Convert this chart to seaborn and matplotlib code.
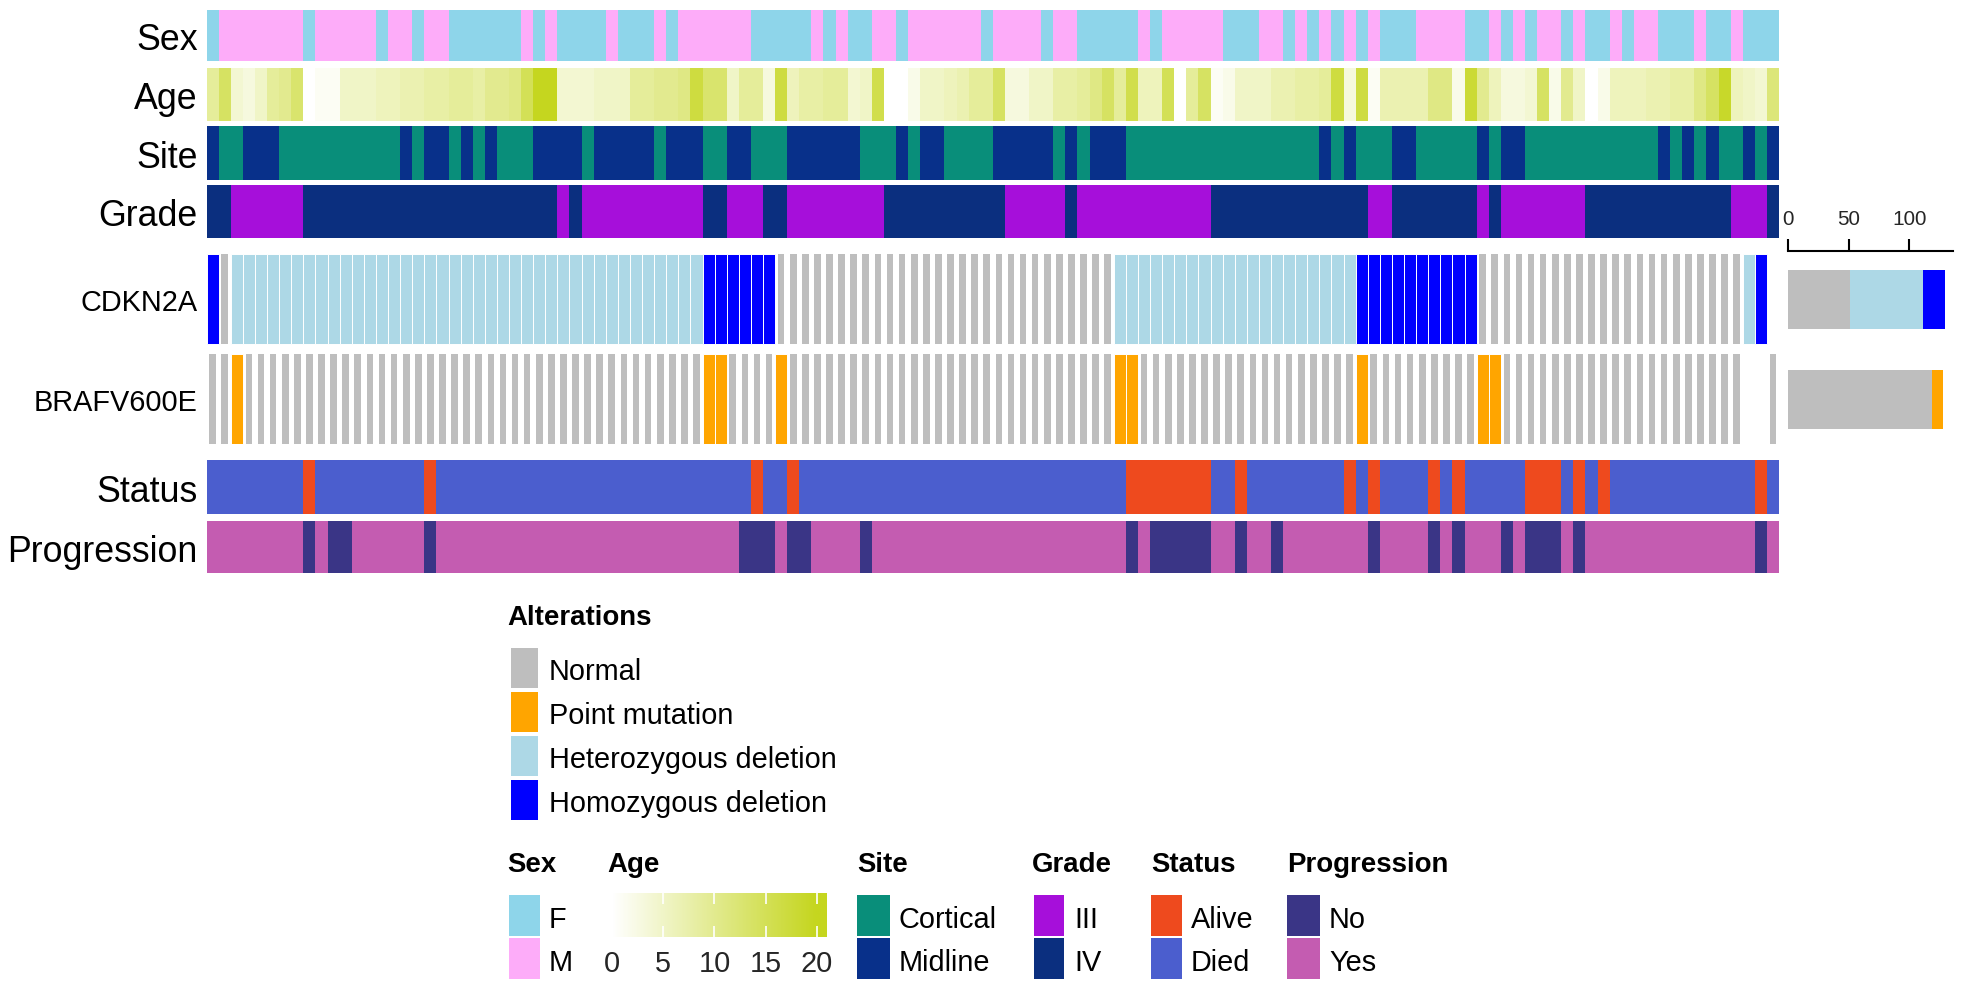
import numpy as np
import pandas as pd
import matplotlib
matplotlib.use("Agg")
import matplotlib.pyplot as plt
import seaborn as sns
from matplotlib.colors import ListedColormap, LinearSegmentedColormap, Normalize
from matplotlib.patches import Rectangle
from matplotlib import font_manager

# ---------------- data (one character / value per sample, 130 samples) ----------------
sex = ("FMMMMMMMFM" "MMMMFMMFMM" "FFFFFFMFMF" "FFFMFFFMFM" "MMMMMFFFFF"
       "MFMFFMMFMM" "MMMMFMMMMF" "MMFFFFFMFM" "MMMMFFFMMF" "MFMFMFMFFF"
       "MMMMFFMFMF" "MMFMFFMFMM" "FFFMFFMFFF")
age = [9, 14, 4, 3, 5, 9, 10, 13, 0, 1,
       1, 5, 5, 5, 6, 6, 7, 7, 8, 8,
       9, 9, 8, 10, 10, 11, 15, 20, 20, 4,
       4, 4, 5, 5, 5, 9, 9, 10, 10, 11,
       17, 13, 13, 5, 9, 9, 3, 17, 6, 8,
       8, 9, 9, 4, 5, 16, 0, 0, 2, 5,
       5, 6, 7, 9, 9, 14, 3, 3, 5, 5,
       8, 8, 9, 11, 14, 9, 16, 6, 6, 15,
       0, 9, 14, 1, 2, 5, 5, 5, 7, 7,
       8, 8, 9, 17, 3, 17, 1, 7, 7, 7,
       7, 11, 11, 2, 18, 10, 6, 3, 3, 4,
       14, 2, 10, 5, 0, 2, 6, 6, 6, 7,
       7, 8, 8, 11, 14, 19, 6, 5, 4, 12]
site = ("MCCMMMCCCC" "CCCCCCMCMM" "CMCMCCCMMM" "MCMMMMMCMM" "MCCMMCCCMM"
        "MMMMCCCMCM" "MCCCCMMMMM" "CMCMMMCCCC" "CCCCCCCCCC" "CCMCMCCCMM"
        "CCCCCMCMMC" "CCCCCCCCCC" "MCMCMCCMCM")
grade = ("4433333344" "4444444444" "4444444443" "4333333333" "3443334433"
         "3333334444" "4444443333" "3433333333" "3334444444" "4444443344"
         "4444434333" "3333444444" "4444443334")
cdkn2a = ("DNHHHHHHHH" "HHHHHHHHHH" "HHHHHHHHHH" "HHHHHHHHHH" "HDDDDDDNNN"
          "NNNNNNNNNN" "NNNNNNNNNN" "NNNNNHHHHH" "HHHHHHHHHH" "HHHHHDDDDD"
          "DDDDDNNNNN" "NNNNNNNNNN" "NNNNNNNHD-")
braf = ("NNPNNNNNNN" "NNNNNNNNNN" "NNNNNNNNNN" "NNNNNNNNNN" "NPPNNNNPNN"
        "NNNNNNNNNN" "NNNNNNNNNN" "NNNNNPPNNN" "NNNNNNNNNN" "NNNNNPNNNN"
        "NNNNNPPNNN" "NNNNNNNNNN" "NNNNNNN--N")
status = ("DDDDDDDDAD" "DDDDDDDDAD" "DDDDDDDDDD" "DDDDDDDDDD" "DDDDDADDAD"
          "DDDDDDDDDD" "DDDDDDDDDD" "DDDDDDAAAA" "AAADDADDDD" "DDDDADADDD"
          "DADADDDDDA" "AADADADDDD" "DDDDDDDDAD")
progression = ("YYYYYYYYNY" "NNYYYYYYNY" "YYYYYYYYYY" "YYYYYYYYYY" "YYYYNNNYNN"
               "YYYYNYYYYY" "YYYYYYYYYY" "YYYYYYNYNN" "NNNYYNYYNY" "YYYYYYNYYY"
               "YNYNYYYNYN" "NNYNYYYYYY" "YYYYYYYYNY")

gene_names = ["CDKN2A", "BRAFV600E"]
alt_codes = ["N", "P", "H", "D"]
alt_labels = ["Normal", "Point mutation", "Heterozygous deletion", "Homozygous deletion"]
alt_colors = ["#BEBEBE", "#FFA500", "#ADD8E6", "#0000FF"]

sex_levels, sex_labels, sex_colors = ["F", "M"], ["F", "M"], ["#8ED5EA", "#FDACF9"]
site_levels, site_labels, site_colors = ["C", "M"], ["Cortical", "Midline"], ["#098E7A", "#08308A"]
grade_levels, grade_labels, grade_colors = ["3", "4"], ["III", "IV"], ["#A60FDA", "#0B2F7F"]
status_levels, status_labels, status_colors = ["A", "D"], ["Alive", "Died"], ["#EE4A1E", "#4B5ECE"]
prog_levels, prog_labels, prog_colors = ["N", "Y"], ["No", "Yes"], ["#3A3586", "#C45CB1"]
age_cmap = LinearSegmentedColormap.from_list("age", ["#FFFFFF", "#C5D61F"])
age_ticks = [0, 5, 10, 15, 20]

N = len(sex)

# ---------------- style / fonts ----------------
sns.set_theme(style="white")
avail = {f.name for f in font_manager.fontManager.ttflist}
if "Liberation Sans Narrow" in avail:
    FN, SC = "Liberation Sans Narrow", 1.0
else:
    FN, SC = "Liberation Sans", 0.83
plt.rcParams["font.family"] = [FN, "DejaVu Sans"]

W, H = 1962, 990
fig = plt.figure(figsize=(W / 100, H / 100), dpi=100)


def add_px(x0, y0, x1, y1, **kw):
    return fig.add_axes([x0 / W, 1 - y1 / H, (x1 - x0) / W, (y1 - y0) / H], **kw)


ov = fig.add_axes([0, 0, 1, 1], zorder=-1)
ov.set_xlim(0, W)
ov.set_ylim(H, 0)
ov.axis("off")


def txt(x, yc, s, size, bold=False, ha="left"):
    size = size * SC
    base = yc + 0.358 * size * 100 / 72
    ov.text(x, base, s, fontsize=size, fontweight="bold" if bold else "normal",
            ha=ha, va="baseline", color="black", family=[FN, "DejaVu Sans"])


HX0, HX1 = 206.6, 1779.0
LBL_X = 198


def cat_row(codes, levels, colors, y0, y1, name):
    ax = add_px(HX0, y0, HX1, y1)
    vals = pd.DataFrame([[levels.index(c) for c in codes]])
    sns.heatmap(vals, ax=ax, cmap=ListedColormap(colors), vmin=-0.5,
                vmax=len(levels) - 0.5, cbar=False, xticklabels=False,
                yticklabels=False, linewidths=0)
    ax.set_xlabel("")
    ax.set_ylabel("")
    txt(LBL_X, (y0 + y1) / 2 + 2, name, 31, ha="right")


cat_row(sex, sex_levels, sex_colors, 10, 61, "Sex")
# Age (continuous)
ax_age = add_px(HX0, 68, HX1, 121)
sns.heatmap(pd.DataFrame([age]), ax=ax_age, cmap=age_cmap, vmin=0, vmax=20,
            cbar=False, xticklabels=False, yticklabels=False, linewidths=0)
ax_age.set_xlabel("")
ax_age.set_ylabel("")
txt(LBL_X, 94.5 + 2, "Age", 31, ha="right")
cat_row(site, site_levels, site_colors, 126, 180, "Site")
cat_row(grade, grade_levels, grade_colors, 185, 238, "Grade")
cat_row(status, status_levels, status_colors, 460, 514, "Status")
cat_row(progression, prog_levels, prog_colors, 521, 573, "Progression")

# ---------------- oncoprint rows ----------------
ax_on = add_px(HX0, 254, HX1, 444)
ax_on.set_xlim(-0.5, N - 0.5)
ax_on.set_ylim(1.45, -0.45)
ax_on.axis("off")
gene_data = [cdkn2a, braf]
for gi, codes in enumerate(gene_data):
    for code, col in zip(alt_codes, alt_colors):
        xs = [j for j, c in enumerate(codes) if c == code]
        if not xs:
            continue
        if code == "N":
            ax_on.bar(xs, 0.9, bottom=gi - 0.45, width=0.55, color=col, linewidth=0)
        else:
            ax_on.bar(xs, 0.9, bottom=gi - 0.45, width=1.0, color=col,
                      edgecolor="white", linewidth=0.7)
txt(LBL_X, 299 + 2, gene_names[0], 25, ha="right")
txt(LBL_X, 399 + 2, gene_names[1], 25, ha="right")

# ---------------- right bar plot ----------------
ax_b = add_px(1788, 251, 1953, 444)
ax_b.set_xlim(0, 136)
ax_b.set_ylim(1.45, -0.48)
left = np.zeros(len(gene_data))
for code, col in zip(alt_codes, alt_colors):
    cnt = np.array([codes.count(code) for codes in gene_data], dtype=float)
    ax_b.barh(np.arange(len(gene_data)), cnt, left=left, height=0.59, color=col, linewidth=0)
    left += cnt
for s in ["bottom", "left", "right"]:
    ax_b.spines[s].set_visible(False)
ax_b.spines["top"].set_visible(True)
ax_b.spines["top"].set_color("black")
ax_b.spines["top"].set_linewidth(1.5)
ax_b.xaxis.tick_top()
ax_b.set_xticks([0, 50, 100])
ax_b.set_yticks([])
ax_b.tick_params(axis="x", top=True, bottom=False, direction="out", length=9,
                 width=1.5, color="black", labelsize=18 * SC, pad=7)
ax_b.set_facecolor("none")

# ---------------- legends ----------------
txt(507, 615, "Alterations", 24, bold=True)
for k, (lab, col) in enumerate(zip(alt_labels, alt_colors)):
    top = 648 + 44 * k
    ov.add_patch(Rectangle((511, top), 27, 40, facecolor=col, edgecolor="none"))
    txt(549, top + 22, lab, 25)

leg_specs = [
    ("Sex", 507, 509, 540, 549, sex_labels, sex_colors),
    ("Site", 857, 857, 890, 899, site_labels, site_colors),
    ("Grade", 1032, 1034, 1064, 1074, grade_labels, grade_colors),
    ("Status", 1151, 1151, 1182, 1191, status_labels, status_colors),
    ("Progression", 1287, 1287, 1320, 1329, prog_labels, prog_colors),
]
for title, tx, sx0, sx1, lx, labs, cols in leg_specs:
    txt(tx, 862, title, 24, bold=True)
    for k, (lab, col) in enumerate(zip(labs, cols)):
        top = 895 + 43 * k
        ov.add_patch(Rectangle((sx0, top), sx1 - sx0, 41, facecolor=col, edgecolor="none"))
        txt(lx, top + 23, lab, 25)

txt(607, 862, "Age", 24, bold=True)
cax = add_px(612, 893, 827, 937)
grad = np.linspace(0, 21, 300)[None, :]
cax.imshow(grad, extent=[0, 21, 0, 1], aspect="auto", cmap=age_cmap,
           norm=Normalize(0, 20), origin="lower")
cax.set_xlim(0, 21)
cax.set_ylim(0, 1)
cax.set_yticks([])
cax.set_xticks(age_ticks)
cax.set_xticklabels([str(t) for t in age_ticks])
cax.tick_params(axis="x", direction="in", top=True, bottom=True, length=8,
                width=1.2, color="white", labelsize=25 * SC, pad=9)
for s in cax.spines.values():
    s.set_visible(False)

fig.savefig("out.png", dpi=100)
